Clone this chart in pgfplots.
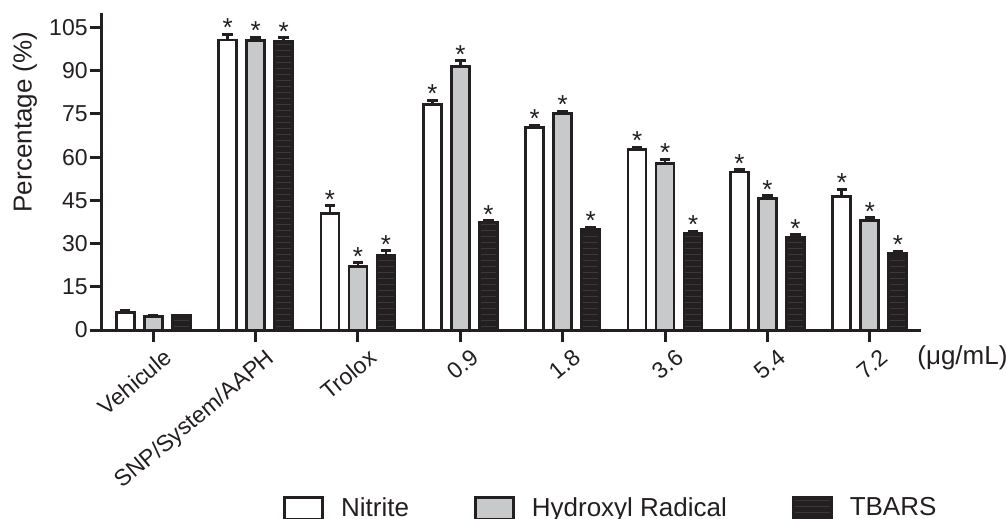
\documentclass[border=0pt]{standalone}
\usepackage{fontspec}
\setmainfont{Liberation Sans}
\usepackage{pgfplots}
\pgfplotsset{compat=1.18}
\usetikzlibrary{patterns}
\definecolor{ink}{RGB}{35,31,32}
\definecolor{barg}{RGB}{200,201,203}
\definecolor{bark}{RGB}{35,31,32}
\begin{document}
\begin{tikzpicture}
\begin{axis}[
 name=ax, at={(0,0)}, anchor=south west,
 width=409.5pt, height=158.5pt, scale only axis,
 ybar, bar width=9pt,
 xmin=-0.5, xmax=7.5, ymin=0, ymax=110,
 xtick={0,...,7},
 xticklabels={Vehicule,SNP/System/AAPH,Trolox,0.9,1.8,3.6,5.4,7.2},
 ytick={0,15,...,105},
 axis x line=bottom, axis y line=left,
 axis line style={-, line width=1.5pt, ink},
 tick style={line width=1.5pt, ink},
 major tick length=6pt, tick align=outside,
 /pgf/number format/assume math mode=true,
 ticklabel style={text=ink},
 yticklabel style={inner sep=1pt, font=\fontsize{11.5}{13}\selectfont},
 xticklabel style={rotate=40, anchor=north east, inner sep=0pt, font=\fontsize{11.5}{13}\selectfont, xshift=2pt, yshift=-5pt},
 ylabel={Percentage (\%)},
 ylabel style={at={(axis description cs:-0.094,0.656)}, anchor=center, font=\fontsize{13}{15}\selectfont, text=ink},
 legend columns=3,
 legend style={at={(rel axis cs:0.221,-0.562)}, anchor=west, draw=none, fill=none,
   inner sep=0pt, font=\fontsize{13}{15}\selectfont, text=ink,
   /tikz/every even column/.append style={column sep=30.5pt},
   /tikz/every odd column/.append style={column sep=6.5pt}},
 legend image code/.code={\draw[#1, line width=1.4pt] (0pt,-5.5pt) rectangle (19pt,5.5pt);},
 error bars/error bar style={line width=1.4pt, ink},
 error bars/error mark options={line width=1.4pt, mark size=2.6pt, ink, rotate=90},
 star/.style={draw=none, fill=none, forget plot, nodes near coords={*},
   every node near coord/.append style={font=\fontsize{13}{13}\selectfont, text=ink, anchor=south, inner sep=0pt, yshift=-1.5pt}},
]
\addplot[draw=ink, fill=white, line width=1.4pt, bar shift=-14pt,
  error bars/.cd, y dir=plus, y explicit] coordinates {
 (0,6.2) +- (0,0.5) (1,100.6) +- (0,2.0) (2,40.4) +- (0,2.8) (3,78.3) +- (0,1.4)
 (4,70.3) +- (0,0.8) (5,62.7) +- (0,0.8) (6,54.8) +- (0,0.8) (7,46.4) +- (0,2.4)};
\addlegendentry{Nitrite}
\addplot[draw=ink, fill=barg, line width=1.4pt, bar shift=0pt,
  error bars/.cd, y dir=plus, y explicit] coordinates {
 (0,4.7) +- (0,0.4) (1,100.4) +- (0,1.2) (2,22.1) +- (0,1.2) (3,91.5) +- (0,1.9)
 (4,75.0) +- (0,0.9) (5,57.8) +- (0,1.5) (6,45.7) +- (0,0.9) (7,38.1) +- (0,0.8)};
\addlegendentry{Hydroxyl Radical}
\addplot[draw=ink, fill=bark, line width=1.4pt, bar shift=14pt,
  postaction={pattern=horizontal lines, pattern color=black!55!gray},
  error bars/.cd, y dir=plus, y explicit] coordinates {
 (0,4.9) +- (0,0.3) (1,100.1) +- (0,1.3) (2,25.9) +- (0,1.7) (3,37.2) +- (0,0.8)
 (4,34.9) +- (0,0.8) (5,33.4) +- (0,0.9) (6,32.0) +- (0,1.0) (7,26.5) +- (0,0.8)};
\addlegendentry{TBARS}
% asterisks at top of error bars
\addplot[star, bar shift=-14pt] coordinates {
 (1,102.6) (2,43.2) (3,79.7) (4,71.1) (5,63.5) (6,55.6) (7,48.8)};
\addplot[star, bar shift=0pt] coordinates {
 (1,101.6) (2,23.3) (3,93.4) (4,75.9) (5,59.3) (6,46.6) (7,38.9)};
\addplot[star, bar shift=14pt] coordinates {
 (1,101.4) (2,27.6) (3,38.0) (4,35.7) (5,34.3) (6,33.0) (7,27.3)};
\end{axis}
\node[anchor=west, font=\fontsize{13}{15}\selectfont, text=ink, inner sep=0pt] at ([xshift=-2pt,yshift=-14pt]ax.south east) {(μg/mL)};
\pgfresetboundingbox
\path[use as bounding box] (-51pt,-94.5pt) rectangle (452pt,165pt);
\end{tikzpicture}
\end{document}
